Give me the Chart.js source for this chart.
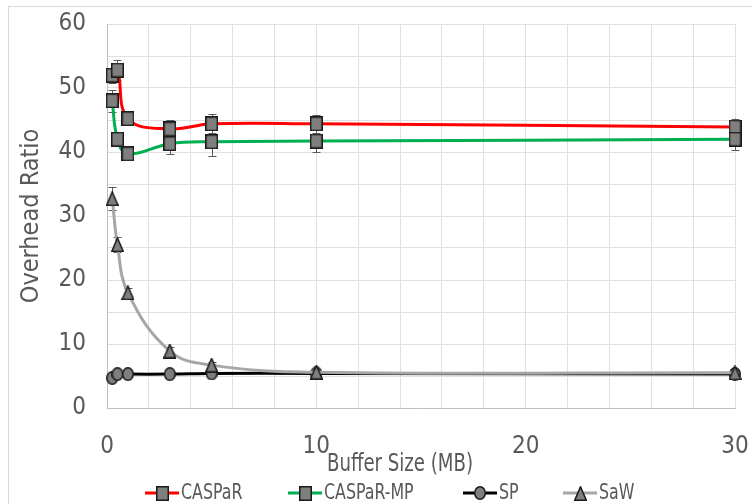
<!DOCTYPE html>
<html>
<head>
<meta charset="utf-8">
<script src="https://cdn.jsdelivr.net/npm/chart.js@4/dist/chart.umd.min.js"></script>
<style>
  html, body { margin: 0; padding: 0; background: #fff; }
  #wrap { position: relative; width: 752px; height: 504px; overflow: hidden; }
  #frame { position: absolute; left: 8px; top: 6px; width: 800px; height: 600px; border: 1px solid #d9d9d9; }
  #box { position: absolute; left: 0; top: 0; width: 752px; height: 504px; }
</style>
</head>
<body>
<div id="wrap">
  <div id="frame"></div>
  <div id="box"><canvas id="chart"></canvas></div>
</div>
<script>
// Buffer sizes (MB) on the x axis
const bufferSizes = [0.25, 0.5, 1, 3, 5, 10, 30];

// Overhead ratio per scheme, with error-bar half widths
const casparRatio   = [52.0, 52.8, 45.2, 43.6, 44.4, 44.4, 43.9];
const casparErr     = [1.2, 1.6, 1.0, 1.4, 1.5, 1.4, 1.3];
const casparMpRatio = [48.0, 42.0, 39.7, 41.3, 41.6, 41.7, 42.0];
const casparMpErr   = [1.7, 1.0, 0.8, 1.6, 2.2, 1.7, 1.7];
const spRatio       = [4.7, 5.3, 5.3, 5.3, 5.4, 5.4, 5.3];
const spErr         = [0.3, 0.3, 0.3, 0.3, 0.3, 0.3, 0.3];
const sawRatio      = [32.7, 25.5, 18.0, 8.9, 6.7, 5.6, 5.5];
const sawErr        = [1.8, 1.2, 0.8, 0.6, 0.5, 0.4, 0.4];

const seriesNames = ['CASPaR', 'CASPaR-MP', 'SP', 'SaW'];

// Labelled ticks (grid lines are drawn more densely)
const xTickLabels = [0, 10, 20, 30];
const yTickLabels = [0, 10, 20, 30, 40, 50, 60];

const FONT = "'DejaVu Sans Condensed', 'Liberation Sans', sans-serif";
const TEXT = '#595959';

// Gray markers with dark outline, drawn once onto small canvases
function makeMarker(shape, w, h) {
  const c = document.createElement('canvas');
  c.width = w; c.height = h;
  const g = c.getContext('2d');
  g.fillStyle = '#7f7f7f';
  g.strokeStyle = '#1a1a1a';
  g.lineWidth = 1.5;
  g.beginPath();
  if (shape === 'square') {
    g.rect(0.75, 0.75, w - 1.5, h - 1.5);
  } else if (shape === 'circle') {
    g.ellipse(w / 2, h / 2, w / 2 - 0.75, h / 2 - 0.75, 0, 0, Math.PI * 2);
  } else {
    g.moveTo(w / 2, 0.75);
    g.lineTo(w - 0.75, h - 0.75);
    g.lineTo(0.75, h - 0.75);
    g.closePath();
  }
  g.fill();
  g.stroke();
  return c;
}
const squareMark = makeMarker('square', 13, 15);
const circleMark = makeMarker('circle', 12, 14);
const triMark = makeMarker('triangle', 13, 15);

function series(name, values, errors, color, mark, order) {
  return {
    label: name,
    data: bufferSizes.map((x, i) => ({ x, y: values[i] })),
    errors,
    borderColor: color,
    backgroundColor: color,
    borderWidth: 3,
    tension: 0.4,
    pointStyle: mark,
    pointRadius: 7,
    pointHoverRadius: 7,
    clip: false,
    order
  };
}

const datasets = [
  series(seriesNames[0], casparRatio, casparErr, '#ff0000', squareMark, 4),
  series(seriesNames[1], casparMpRatio, casparMpErr, '#00b050', squareMark, 3),
  series(seriesNames[2], spRatio, spErr, '#000000', circleMark, 2),
  series(seriesNames[3], sawRatio, sawErr, '#a6a6a6', triMark, 1)
];

// Error bars sit beneath the lines and markers
const errorBars = {
  id: 'errorBars',
  beforeDatasetsDraw(chart) {
    const { ctx } = chart;
    const ys = chart.scales.y;
    ctx.save();
    ctx.strokeStyle = '#595959';
    ctx.lineWidth = 1;
    chart.data.datasets.forEach((ds, di) => {
      const meta = chart.getDatasetMeta(di);
      meta.data.forEach((pt, i) => {
        const v = ds.data[i].y, e = ds.errors[i];
        const top = ys.getPixelForValue(v + e);
        const bot = ys.getPixelForValue(v - e);
        const x = Math.round(pt.x) + 0.5;
        ctx.beginPath();
        ctx.moveTo(x, top); ctx.lineTo(x, bot);
        ctx.moveTo(x - 4, Math.round(top) + 0.5); ctx.lineTo(x + 4, Math.round(top) + 0.5);
        ctx.moveTo(x - 4, Math.round(bot) + 0.5); ctx.lineTo(x + 4, Math.round(bot) + 0.5);
        ctx.stroke();
      });
    });
    ctx.restore();
  }
};

// Text drawn slightly condensed to suit the narrow chart lettering
function narrowText(ctx, text, x, y, squeeze) {
  ctx.save();
  ctx.translate(x, y);
  ctx.scale(squeeze, 1);
  ctx.fillText(text, 0, 0);
  ctx.restore();
}

// Legend row and x-axis title along the bottom
const legendX = [145, 288, 463, 563];
const bottomText = {
  id: 'bottomText',
  afterDraw(chart) {
    const { ctx } = chart;
    ctx.save();
    ctx.fillStyle = TEXT;
    ctx.font = '24px ' + FONT;
    ctx.textAlign = 'center';
    ctx.textBaseline = 'middle';
    narrowText(ctx, 'Buffer Size (MB)', 400, 465, 0.84);

    ctx.font = '22px ' + FONT;
    ctx.textAlign = 'left';
    const y = 493;
    chart.data.datasets.forEach((ds, i) => {
      const x0 = legendX[i];
      ctx.strokeStyle = ds.borderColor;
      ctx.lineWidth = 3;
      ctx.beginPath();
      ctx.moveTo(x0, y); ctx.lineTo(x0 + 34, y);
      ctx.stroke();
      const m = ds.pointStyle;
      ctx.drawImage(m, Math.round(x0 + 17 - m.width / 2), Math.round(y - m.height / 2));
      narrowText(ctx, ds.label, x0 + 36, y, 0.8);
    });
    ctx.restore();
  }
};

new Chart(document.getElementById('chart'), {
  type: 'line',
  data: { datasets },
  plugins: [errorBars, bottomText],
  options: {
    responsive: true,
    maintainAspectRatio: false,
    animation: false,
    layout: { padding: 0 },
    plugins: { legend: { display: false }, tooltip: { enabled: false } },
    scales: {
      x: {
        type: 'linear',
        min: 0, max: 30,
        afterFit(scale) { scale.height = 96; scale.paddingLeft = 0; scale.paddingRight = 17; },
        border: { color: '#bfbfbf', width: 1 },
        grid: { color: '#e0e0e0', lineWidth: 1, drawTicks: false },
        ticks: {
          stepSize: 2, autoSkip: false, maxRotation: 0, padding: 24,
          color: TEXT, font: { family: FONT, size: 24 },
          callback: v => xTickLabels.includes(v) ? String(v) : ''
        }
      },
      y: {
        min: 0, max: 60,
        afterFit(scale) { scale.width = 107; scale.paddingTop = 24; scale.paddingBottom = 0; },
        border: { color: '#bfbfbf', width: 1 },
        grid: { color: '#e0e0e0', lineWidth: 1, drawTicks: false },
        ticks: {
          stepSize: 5, autoSkip: false, padding: 21,
          color: TEXT, font: { family: FONT, size: 24 },
          callback: v => yTickLabels.includes(v) ? String(v) : ''
        },
        title: {
          display: true, text: 'Overhead Ratio', color: TEXT,
          font: { family: FONT, size: 25 },
          padding: { top: 16, bottom: 0 }
        }
      }
    }
  }
});
</script>
</body>
</html>
